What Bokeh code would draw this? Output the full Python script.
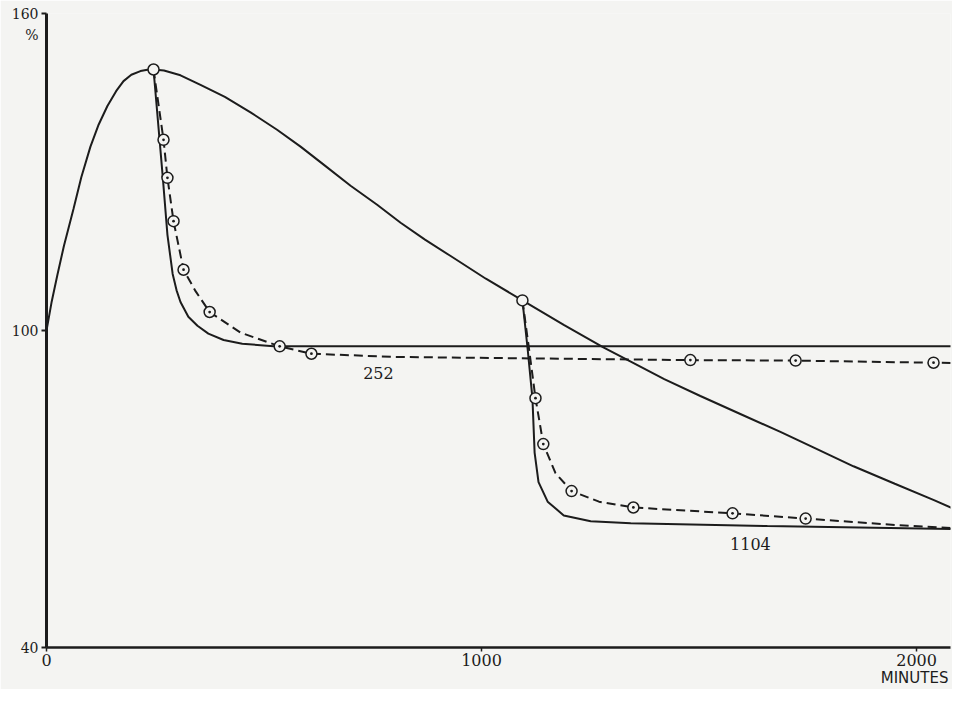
from bokeh.plotting import figure
from bokeh.models import FixedTicker, Label, Range1d, LinearAxis, AllLabels
from bokeh.embed import file_html
from bokeh.resources import INLINE

# ---- data (minutes, %) ----
main_t = [0, 12, 25, 40, 62, 80, 101, 120, 140, 160, 177, 195, 216, 232, 246, 270, 308, 354,
          410, 469, 530, 584, 640, 699, 760, 814, 870, 929, 1010, 1094, 1190, 1280, 1343, 1420,
          1503, 1600, 1687, 1770, 1855, 1950, 2040, 2108]
main_v = [100, 105.5, 110.5, 116.0, 123.0, 129.0, 134.8, 139.0, 142.5, 145.3, 147.2, 148.4, 149.1, 149.35, 149.4, 149.2, 148.3, 146.5,
          144.2, 141.3, 138.0, 134.8, 131.2, 127.4, 123.8, 120.4, 117.2, 114.1, 109.8, 105.7, 101.0, 96.8, 94.1, 90.8,
          87.6, 84.0, 80.8, 77.6, 74.3, 71.0, 67.9, 65.4]

node_t = [246, 1094]
node_v = [149.4, 105.7]

# curve 252 : solid and dashed with observed points
s1_t = [246, 267, 278, 290, 299, 308, 326, 347, 372, 407, 450, 522, 2108]
s1_v = [149.4, 129.3, 118.1, 110.7, 107.6, 105.4, 102.6, 100.9, 99.4, 98.2, 97.5, 97.0, 97.0]
d1_line_t = [246, 269, 278, 292, 315, 343, 375, 446, 536, 609, 800, 1480, 1722, 2039, 2108]
d1_line_v = [149.4, 136.1, 128.9, 120.7, 111.5, 107.4, 103.5, 99.6, 97.0, 95.6, 95.0, 94.4, 94.3, 93.9, 93.8]
d1_pts_t = [269, 278, 292, 315, 375, 536, 609, 1480, 1722, 2039]
d1_pts_v = [136.1, 128.9, 120.7, 111.5, 103.5, 97.0, 95.6, 94.4, 94.3, 93.9]

# curve 1104
s2_t = [1094, 1106, 1117, 1122, 1131, 1152, 1189, 1251, 1343, 1657, 2108]
s2_v = [105.7, 96.5, 87.2, 76.9, 71.3, 67.6, 65.0, 63.9, 63.5, 63.0, 62.4]
d2_line_t = [1094, 1110, 1124, 1142, 1170, 1207, 1270, 1349, 1577, 1745, 1950, 2108]
d2_line_v = [105.7, 96.0, 87.2, 78.5, 73.0, 69.6, 67.6, 66.5, 65.4, 64.4, 63.2, 62.5]
d2_pts_t = [1124, 1142, 1207, 1349, 1577, 1745]
d2_pts_v = [87.2, 78.5, 69.6, 66.5, 65.4, 64.4]

x_ticks = [0, 1000, 2000]
y_ticks = [40, 100, 160]
y_unit_tick = 156
y_unit_text = "%"
x_unit_tick = 2014
x_unit_text = "MINUTES"
curve_labels = ["252", "1104"]
curve_label_t = [763, 1618]
curve_label_v = [92.0, 59.6]

BG = "#f4f4f2"
INK = "#1c1c1c"

p = figure(width=952, height=689, output_backend="svg", toolbar_location=None,
           x_range=Range1d(0, 2078), y_range=Range1d(40, 160),
           min_border_left=46, min_border_right=2, min_border_top=13, min_border_bottom=34)
p.background_fill_color = BG
p.border_fill_color = BG
p.outline_line_color = None
p.xgrid.visible = False
p.ygrid.visible = False

# y axis: line + tick marks (no text)
ya = p.yaxis[0]
ya.ticker = FixedTicker(ticks=y_ticks)
ya.axis_line_color = INK
ya.axis_line_width = 3
ya.major_tick_line_color = INK
ya.major_tick_line_width = 2
ya.major_tick_in = 0
ya.major_tick_out = 5
ya.minor_tick_line_color = None
ya.major_label_standoff = 0
ya.major_label_overrides = {t: "" for t in y_ticks}

# y axis texts (numbers and unit)
yb = LinearAxis(ticker=FixedTicker(ticks=y_ticks + [y_unit_tick]),
                major_label_overrides={y_unit_tick: y_unit_text},
                major_label_policy=AllLabels())
yb.axis_line_color = None
yb.major_tick_line_color = None
yb.minor_tick_line_color = None
yb.major_tick_in = 0
yb.major_tick_out = 0
yb.major_label_standoff = 3
yb.major_label_text_font = "DejaVu Serif"
yb.major_label_text_font_size = "14px"
yb.major_label_text_color = INK
p.add_layout(yb, "left")

# x axis
xa = p.xaxis[0]
xa.ticker = FixedTicker(ticks=x_ticks)
xa.axis_line_color = INK
xa.axis_line_width = 2.5
xa.major_tick_line_color = INK
xa.major_tick_line_width = 1.5
xa.major_tick_in = 0
xa.major_tick_out = 4
xa.minor_tick_line_color = None
xa.major_label_standoff = 2
xa.major_label_text_font = "DejaVu Serif"
xa.major_label_text_font_size = "16px"
xa.major_label_text_color = INK

xb = LinearAxis(ticker=FixedTicker(ticks=[x_unit_tick]),
                major_label_overrides={x_unit_tick: x_unit_text},
                major_label_policy=AllLabels())
xb.axis_line_color = None
xb.major_tick_line_color = None
xb.minor_tick_line_color = None
xb.major_tick_in = 0
xb.major_tick_out = 0
xb.major_label_standoff = 0
xb.major_label_text_font = "DejaVu Sans"
xb.major_label_text_font_size = "15px"
xb.major_label_text_color = INK
p.add_layout(xb, "below")

# lines
p.line(main_t, main_v, line_color=INK, line_width=2)
p.line(s1_t, s1_v, line_color=INK, line_width=2)
p.line(s2_t, s2_v, line_color=INK, line_width=2)
p.line(d1_line_t, d1_line_v, line_color=INK, line_width=2, line_dash="9 5")
p.line(d2_line_t, d2_line_v, line_color=INK, line_width=2, line_dash="9 5")

# markers
p.scatter(d1_pts_t, d1_pts_v, marker="circle_dot", size=11, fill_color=BG, line_color=INK, line_width=1.5)
p.scatter(d2_pts_t, d2_pts_v, marker="circle_dot", size=11, fill_color=BG, line_color=INK, line_width=1.5)
p.scatter(node_t, node_v, marker="circle", size=11, fill_color=BG, line_color=INK, line_width=1.5)

for txt, t, v in zip(curve_labels, curve_label_t, curve_label_v):
    p.add_layout(Label(x=t, y=v, text=txt, text_align="center", text_baseline="middle",
                       text_font="DejaVu Serif", text_font_size="16px", text_color=INK))

open("out.html", "w").write(file_html(p, INLINE))
